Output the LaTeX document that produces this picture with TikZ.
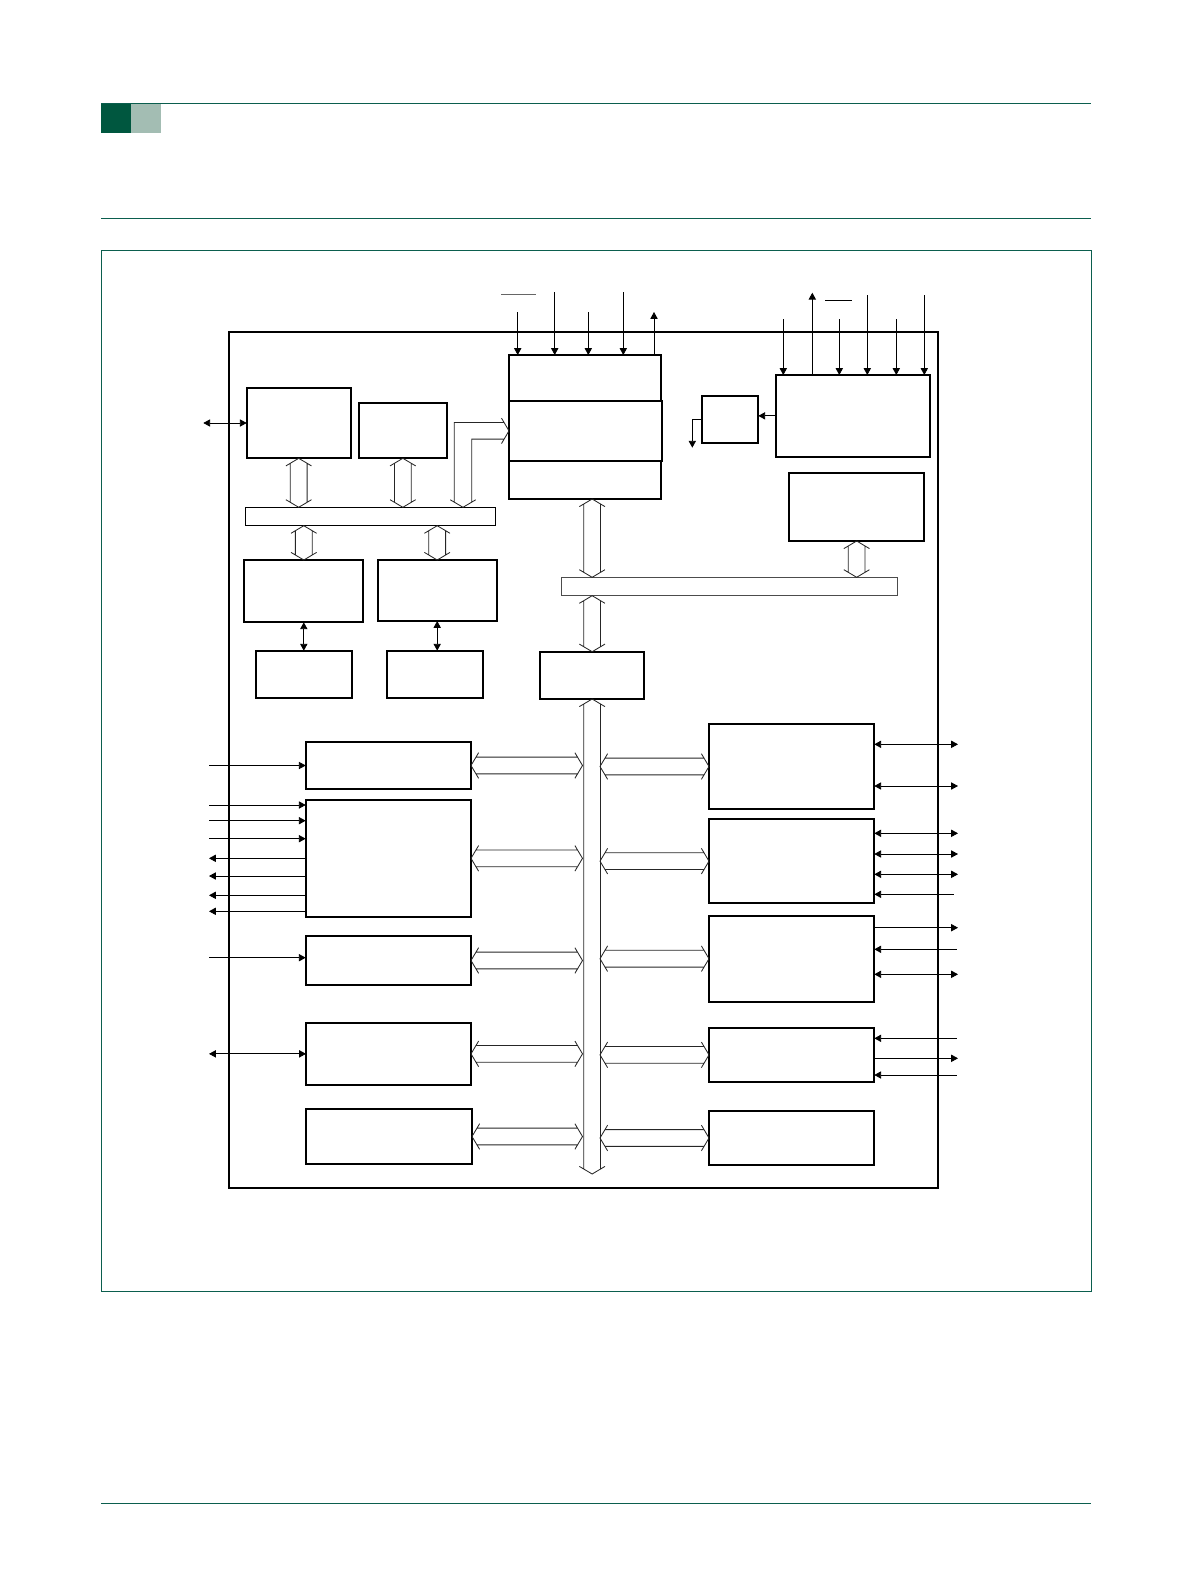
\documentclass[tikz,border=0pt]{standalone}
\usetikzlibrary{arrows.meta,calc,fit}
\definecolor{hdrdark}{HTML}{00573F}
\definecolor{hdrlight}{HTML}{A3BDB3}
\definecolor{hdrline}{HTML}{0B5E4E}
\tikzset{
  blk/.style={draw,line width=1.2pt,inner sep=0pt,outer sep=0pt},
  bar/.style={draw,line width=0.6pt,inner sep=0pt,outer sep=0pt},
  pin/.style={line width=0.6pt},
  busline/.style={line width=0.6pt,draw=black!85},
  bus/.style={busline,to path={
    ($(\tikztostart)!0.19cm!(\tikztotarget)!0.32cm!90:(\tikztotarget)$) -- (\tikztostart)
      -- ($(\tikztostart)!0.19cm!(\tikztotarget)!0.32cm!-90:(\tikztotarget)$)
    ($(\tikztotarget)!0.19cm!(\tikztostart)!0.32cm!90:(\tikztostart)$) -- (\tikztotarget)
      -- ($(\tikztotarget)!0.19cm!(\tikztostart)!0.32cm!-90:(\tikztostart)$)
    ($(\tikztostart)!0.12cm!(\tikztotarget)!0.21cm!90:(\tikztotarget)$)
      -- ($(\tikztotarget)!0.12cm!(\tikztostart)!0.21cm!-90:(\tikztostart)$)
    ($(\tikztostart)!0.12cm!(\tikztotarget)!0.21cm!-90:(\tikztotarget)$)
      -- ($(\tikztotarget)!0.12cm!(\tikztostart)!0.21cm!90:(\tikztostart)$)}}
}
\begin{document}
\begin{tikzpicture}[x=0.025cm,y=-0.025cm,>={Triangle[length=0.17cm,width=0.18cm]}]
\useasboundingbox (0,0) rectangle (1192,1584);

\draw[hdrline,line width=0.7pt] (101,103.3) -- (1091,103.3);
\fill[hdrdark] (101,103.8) rectangle (131,132.7);
\fill[hdrlight] (131,103.8) rectangle (161,132.7);
\draw[hdrline,line width=0.7pt] (101,218.7) -- (1091,218.7);
\draw[hdrline,line width=0.7pt] (101,250.5) rectangle (1091,1291);
\draw[hdrline,line width=0.7pt] (101,1503) -- (1091,1503);

\node[blk,fit={(229.3,332.3) (938.3,1188)}] (chip) {};

\node[blk,fit={(246.7,387.7) (350.7,458.3)}] (mema) {};
\node[blk,fit={(359,403.3) (446.7,458.3)}] (memb) {};
\node[blk,fit={(509,355) (661,400.7)}] (cpuT) {};
\node[blk,fit={(509,400.7) (662.3,461)}] (cpuM) {};
\node[blk,fit={(509,461) (661,499)}] (cpuB) {};
\node[bar,fit={(245.3,507.3) (495.7,525.7)}] (busA) {};
\node[blk,fit={(244.3,560) (363.3,622.3)}] (ctlA) {};
\node[blk,fit={(377.7,560) (496.7,621)}] (ctlB) {};
\node[blk,fit={(255.7,650.7) (352.3,698.3)}] (ioA) {};
\node[blk,fit={(386.7,650.7) (483.3,698.3)}] (ioB) {};
\node[blk,fit={(540,651.7) (644.3,699)}] (brg) {};
\node[bar,draw=black!70,fit={(561.7,577.3) (897.3,595.7)}] (busB) {};
\node[blk,fit={(701.7,395.7) (758.3,443.3)}] (pll) {};
\node[blk,fit={(775.7,375) (930,456.7)}] (clk) {};
\node[blk,fit={(789,472.7) (924.3,541)}] (aux) {};

\node[blk,fit={(305.7,742) (471,789)}] (lp1) {};
\node[blk,fit={(305.7,800) (471,916.7)}] (lp2) {};
\node[blk,fit={(305.7,936) (471,985)}] (lp3) {};
\node[blk,fit={(306,1022.7) (471,1085)}] (lp4) {};
\node[blk,fit={(306,1109) (472,1164)}] (lp5) {};
\node[blk,fit={(709,724) (874.3,809)}] (rp1) {};
\node[blk,fit={(709,819) (874.3,903.3)}] (rp2) {};
\node[blk,fit={(709,915.7) (874.3,1001.7)}] (rp3) {};
\node[blk,fit={(709,1027.7) (874.3,1082)}] (rp4) {};
\node[blk,fit={(709,1111) (874.3,1165)}] (rp5) {};

\draw[bus] (mema.south) to (mema.south |- busA.north);
\draw[bus] (memb.south) to (memb.south |- busA.north);
\draw[bus] (busA.south -| ctlA.north) to (ctlA.north);
\draw[bus] (busA.south -| ctlB.north) to (ctlB.north);
\draw[bus] (cpuB.south -| brg.north) to (brg.north |- busB.north);
\draw[bus] (busB.south -| brg.north) to (brg.north);
\draw[bus] (aux.south) to (aux.south |- busB.north);
\draw[bus] (brg.south) to (brg.south |- 0,1174);

\coordinate (busL) at (582.5,0);
\coordinate (busR) at (600,0);
\foreach \i in {1,...,5} {
  \draw[bus] (lp\i.east) to (lp\i.east -| busL);
  \draw[bus] (rp\i.west -| busR) to (rp\i.west);
}

\coordinate (lt) at (cpuM.west);
\coordinate (lb) at (463,0 |- busA.north);
\draw[busline] ($(lt)+(-7.5,-12.7)$) -- (lt) -- ++(-7.5,12.7)
  ($(lt)+(-4.9,-8.3)$) -| ($(lb)+(-8.7,-4.9)$)
  ($(lt)+(-4.9,8.3)$) -| ($(lb)+(8.7,-4.9)$)
  ($(lb)+(-12.7,-7.5)$) -- (lb) -- ++(12.7,-7.5);

\foreach \x/\y in {517.7/312.3,554.7/292.3,588.3/312.3,623.3/292.3}
  \draw[pin,->] (\x,\y) -- (\x,0 |- cpuT.north);
\draw[pin,->] (654,0 |- cpuT.north) -- (654,312);
\draw[pin,black!60] (501,294.7) -- (535.7,294.7);

\foreach \x/\y in {783.3/319,839.3/319,867.3/295,896.3/319,924.3/295}
  \draw[pin,->] (\x,\y) -- (\x,0 |- clk.north);
\draw[pin,->] (812.3,0 |- clk.north) -- (812.3,292.7);
\draw[pin] (825,300) -- (851.7,300);

\draw[pin,->] (clk.west) -- (clk.west -| pll.east);
\coordinate (pllout) at (692.3,447.7);
\draw[pin,->] (pll.west) -| (pllout);

\draw[pin,<->] (203.3,0 |- mema.west) -- (mema.west);
\draw[pin,<->] (ctlA.south) -- (ctlA.south |- ioA.north);
\draw[pin,<->] (ctlB.south) -- (ctlB.south |- ioB.north);

\draw[pin,->] (209,0 |- lp1.west) -- (lp1.west);
\foreach \y in {805,820.7,838.7}
  \draw[pin,->] (209,\y) -- (lp2.west |- 0,\y);
\foreach \y in {858.3,876,895.3,911.3}
  \draw[pin,->] (lp2.west |- 0,\y) -- (209,\y);
\draw[pin,->] (209,957.7) -- (lp3.west |- 0,957.7);
\draw[pin,<->] (209,0 |- lp4.west) -- (lp4.west);

\foreach \y in {744.3,786}
  \draw[pin,<->] (rp1.east |- 0,\y) -- (958,\y);
\foreach \y in {833.3,854,874.3}
  \draw[pin,<->] (rp2.east |- 0,\y) -- (958,\y);
\draw[pin,<-] (rp2.east |- 0,894.3) -- (954.3,894.3);
\draw[pin,->] (rp3.east |- 0,927.7) -- (958,927.7);
\draw[pin,<-] (rp3.east |- 0,949.3) -- (956.7,949.3);
\draw[pin,<->] (rp3.east |- 0,974.3) -- (958,974.3);
\draw[pin,<-] (rp4.east |- 0,1038.3) -- (957,1038.3);
\draw[pin,->] (rp4.east |- 0,1058.3) -- (958,1058.3);
\draw[pin,<-] (rp4.east |- 0,1075) -- (957,1075);
\end{tikzpicture}
\end{document}
